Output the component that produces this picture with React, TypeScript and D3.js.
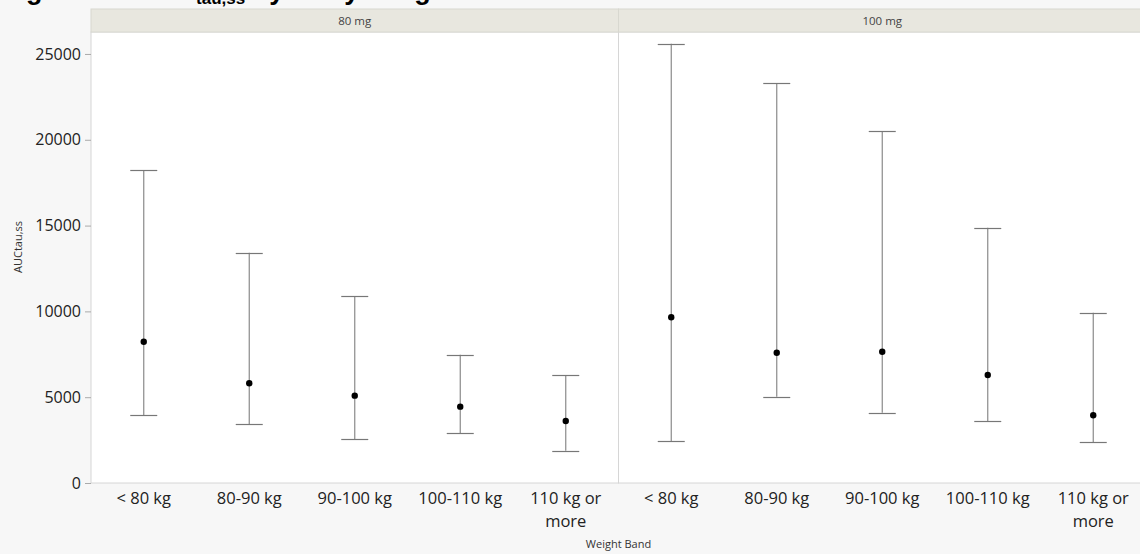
import React, { useEffect, useRef } from "react";
import * as d3 from "d3";

// dose panels and weight bands
const doses = ["80 mg", "100 mg"];
const bands = ["< 80 kg", "80-90 kg", "90-100 kg", "100-110 kg", "110 kg or more"];
const yTicks = [0, 5000, 10000, 15000, 20000, 25000];

// AUCtau,ss: mean, lower, upper per band
const mean80 = [8230, 5810, 5090, 4450, 3610];
const low80 = [3960, 3440, 2550, 2900, 1880];
const high80 = [18240, 13420, 10900, 7480, 6290];

const mean100 = [9660, 7590, 7650, 6290, 3950];
const low100 = [2450, 5030, 4100, 3610, 2370];
const high100 = [25600, 23290, 20510, 14880, 9920];

const W = 1140;
const H = 554;
const left = 91;
const panelW = 527.5;
const stripTop = 9;
const top = 32;
const bottom = 483;

const App = () => {
  const ref = useRef<SVGSVGElement>(null);

  useEffect(() => {
    const svg = d3.select(ref.current);
    svg.selectAll("*").remove();
    const font = "'Open Sans', 'Noto Sans', sans-serif";

    svg.append("rect").attr("width", W).attr("height", H).attr("fill", "#f7f7f7");

    // title, cut off by the top edge like in the source page
    const title = svg
      .append("text")
      .attr("x", 2)
      .attr("y", -1)
      .style("font-family", "'Liberation Sans', Arial, sans-serif")
      .style("font-weight", "bold")
      .style("font-size", "27px")
      .attr("fill", "#000");
    title.append("tspan").text("Figure 12: AUC");
    title.append("tspan").attr("dy", 5).style("font-size", "17px").text("tau,ss");
    title.append("tspan").attr("dy", -5).text(" by Body Weight Band");

    const y = d3.scaleLinear().domain([0, 26280]).range([bottom, top]);

    const series = [
      { mean: mean80, low: low80, high: high80 },
      { mean: mean100, low: low100, high: high100 },
    ];

    doses.forEach((dose, i) => {
      const x0 = left + i * panelW;
      const x = d3
        .scaleBand()
        .domain(bands)
        .range([x0, x0 + panelW]);

      svg
        .append("rect")
        .attr("x", x0)
        .attr("y", top)
        .attr("width", panelW)
        .attr("height", bottom - top)
        .attr("fill", "#fff")
        .attr("stroke", "#d6d6d6");

      svg
        .append("rect")
        .attr("x", x0)
        .attr("y", stripTop)
        .attr("width", panelW)
        .attr("height", top - stripTop)
        .attr("fill", "#e8e7df")
        .attr("stroke", "#d8d8d0");

      svg
        .append("text")
        .attr("x", x0 + panelW / 2)
        .attr("y", stripTop + 16)
        .attr("text-anchor", "middle")
        .style("font-family", font)
        .style("font-size", "11.5px")
        .attr("fill", "#444")
        .text(dose);

      const s = series[i];
      const g = svg.append("g");
      bands.forEach((b, j) => {
        const cx = (x(b) as number) + x.bandwidth() / 2;
        g.append("line")
          .attr("x1", cx)
          .attr("x2", cx)
          .attr("y1", y(s.low[j]))
          .attr("y2", y(s.high[j]))
          .attr("stroke", "#8a8a8a")
          .attr("stroke-width", 1.2);
        [s.low[j], s.high[j]].forEach((v) => {
          g.append("line")
            .attr("x1", cx - 13.5)
            .attr("x2", cx + 13.5)
            .attr("y1", Math.round(y(v)) + 0.5)
            .attr("y2", Math.round(y(v)) + 0.5)
            .attr("stroke", "#777")
            .attr("stroke-width", 1.2);
        });
        g.append("circle")
          .attr("cx", cx)
          .attr("cy", y(s.mean[j]))
          .attr("r", 3.2)
          .attr("fill", "#000");

        const lbl = svg
          .append("text")
          .attr("x", cx)
          .attr("y", 504)
          .attr("text-anchor", "middle")
          .style("font-family", font)
          .style("font-size", "16.5px")
          .attr("fill", "#222");
        if (b === "110 kg or more") {
          lbl.append("tspan").attr("x", cx).text("110 kg or");
          lbl.append("tspan").attr("x", cx).attr("dy", 23).text("more");
        } else {
          lbl.text(b);
        }
      });
    });

    // y axis
    const axis = svg
      .append("g")
      .attr("transform", `translate(${left},0)`)
      .call(d3.axisLeft(y).tickValues(yTicks).tickFormat(d3.format("d")).tickSize(6).tickPadding(4));
    axis.select(".domain").remove();
    axis.selectAll(".tick line").attr("stroke", "#aaa");
    axis
      .selectAll(".tick text")
      .style("font-family", font)
      .style("font-size", "16px")
      .attr("fill", "#222");

    svg
      .append("text")
      .attr("transform", `translate(22,247) rotate(-90)`)
      .attr("text-anchor", "middle")
      .style("font-family", font)
      .style("font-size", "11px")
      .attr("fill", "#333")
      .text("AUCtau,ss");

    svg
      .append("text")
      .attr("x", left + panelW)
      .attr("y", 548)
      .attr("text-anchor", "middle")
      .style("font-family", font)
      .style("font-size", "11px")
      .attr("fill", "#333")
      .text("Weight Band");
  }, []);

  return (
    <div style={{ position: "absolute", left: 0, top: 0 }}>
      <svg ref={ref} width={W} height={H} style={{ display: "block" }} />
    </div>
  );
};

export default App;
